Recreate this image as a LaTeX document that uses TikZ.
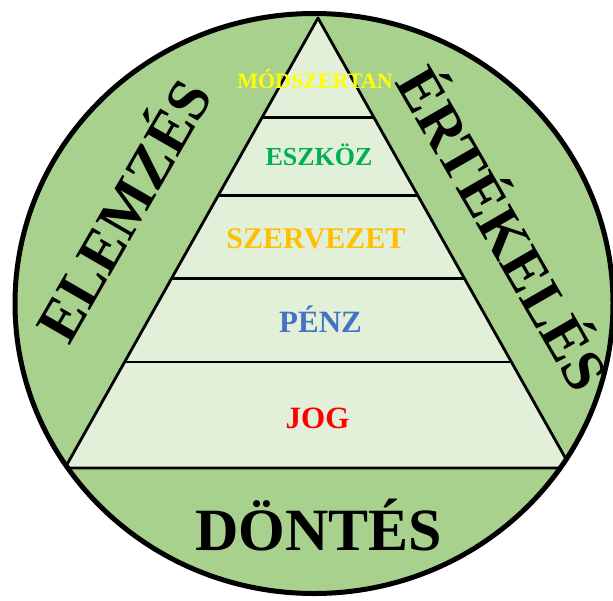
\documentclass[tikz,border=0pt]{standalone}
\usepackage{fontspec}
\setmainfont{Liberation Serif}
\usepackage{pdfrender}
\usepackage{tikz}
\usetikzlibrary{
    positioning,
    calc
}
\definecolor{Gouter}{RGB}{169, 209, 142}
\definecolor{Ginner}{RGB}{226, 240, 217}
\definecolor{Tyellow}{RGB}{255, 255, 0}
\definecolor{Tgreen}{RGB}{0, 176, 80}
\definecolor{Torange}{RGB}{255, 192, 0}
\definecolor{Tblue}{RGB}{68, 114, 196}
\definecolor{Tred}{RGB}{255, 0, 0}
\newcommand{\ringtext}[1]{\textpdfrender{TextRenderingMode=2, LineWidth=1.1pt,
    StrokeColor=white, FillColor=black}{#1}}
\tikzset{
    plevel/.style={
        inner sep=0pt, text depth=0pt, anchor=center
    },
    pring/.style={
        inner sep=0pt, text depth=0pt, anchor=center, text=black,
        font=\fontsize{60}{60}\selectfont\bfseries, text height=39.3pt
    },
    psep/.style={line width=2.8pt, black},
}

\begin{document}
\begin{tikzpicture}[x=1pt, y=-1pt]
    \useasboundingbox (0,0) rectangle (613,600);

    % ── háttér: zöld kör ─────────────────────────────
    \fill [Gouter] (314,303.5) ellipse [x radius=299, y radius=290];

    % ── piramis ──────────────────────────────────────
    \coordinate (apex) at (318,18);
    \coordinate (bl) at (65,468);
    \coordinate (br) at (571,468);

    \begin{scope}
        \clip (314,303.5) ellipse [x radius=299, y radius=290];
        \fill [Ginner] (apex) -- (bl) -- (br) -- cycle;
        \foreach \t in {0.2211, 0.3944, 0.5789, 0.7644} {
            \draw [psep] ($(apex)!\t!(bl)$) -- ($(apex)!\t!(br)$);
        }
        \draw [psep, line join=round] (bl) -- (apex) -- (br) (bl) -- (br);
    \end{scope}

    \draw [line width=5pt, black] (314,303.5) ellipse [x radius=299, y radius=290];

    % ── szintek ──────────────────────────────────────
    \node [plevel, text=Tyellow, font=\fontsize{22}{22}\selectfont\bfseries, text height=14.4pt]
        (mod) at (315,81) {MÓDSZERTAN};
    \node [plevel, text=Tgreen, font=\fontsize{26}{26}\selectfont\bfseries, text height=17pt]
        (esz) at (319,156.5) {ESZKÖZ};
    \node [plevel, text=Torange, font=\fontsize{30}{30}\selectfont\bfseries, text height=19.7pt]
        (szerv) at (316,239) {SZERVEZET};
    \node [plevel, text=Tblue, font=\fontsize{31}{31}\selectfont\bfseries, text height=20.3pt]
        (penz) at (320.5,322) {PÉNZ};
    \node [plevel, text=Tred, font=\fontsize{31}{31}\selectfont\bfseries, text height=20.3pt]
        (jog) at (317.5,418) {JOG};

    % ── körív feliratok ──────────────────────────────
    \node [pring, rotate=60] (elemzes) at (125,211) {\ringtext{ELEMZÉS}};
    \node [pring, rotate=-60] (ertekeles) at (502,229) {\ringtext{ÉRTÉKELÉS}};
    \node [pring] (dontes) at (319,531) {\ringtext{DÖNTÉS}};

\end{tikzpicture}
\end{document}
